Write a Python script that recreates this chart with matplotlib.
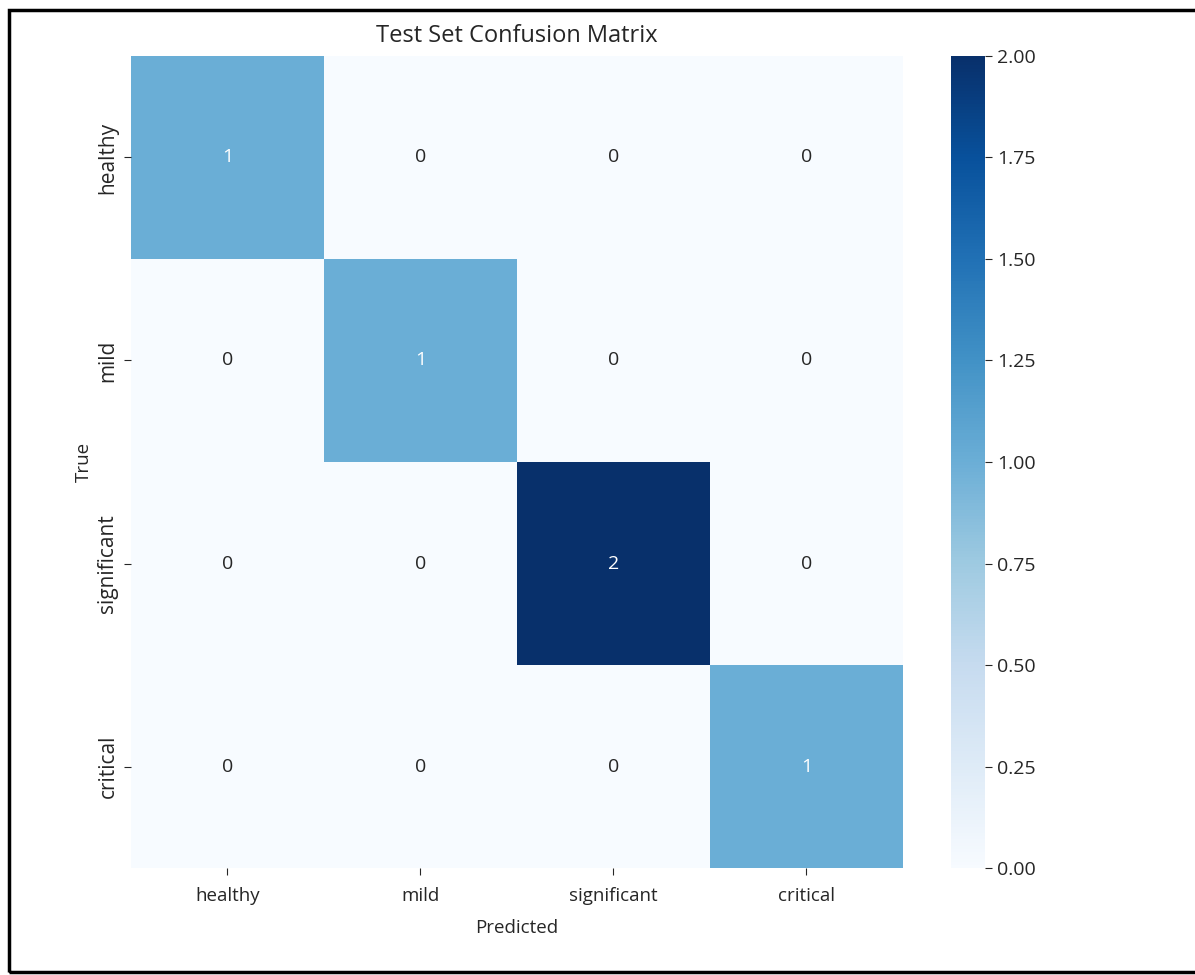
import numpy as np
import matplotlib
matplotlib.use("Agg")
import matplotlib.pyplot as plt
import seaborn as sns
from matplotlib.patches import Rectangle

classes = ["healthy", "mild", "significant", "critical"]
cm = np.array([[1, 0, 0, 0],
               [0, 1, 0, 0],
               [0, 0, 2, 0],
               [0, 0, 0, 1]])
cbar_ticks = [0.0, 0.25, 0.5, 0.75, 1.0, 1.25, 1.5, 1.75, 2.0]

plt.rcParams["font.family"] = ["Open Sans", "DejaVu Sans"]
plt.rcParams["text.color"] = "#262626"
plt.rcParams["axes.labelcolor"] = "#262626"
plt.rcParams["xtick.color"] = "#262626"
plt.rcParams["ytick.color"] = "#262626"

fig = plt.figure(figsize=(11.95, 9.75), dpi=100)
ax = fig.add_axes([0.1096, 0.1097, 0.646, 0.8329])
cax = fig.add_axes([0.7958, 0.1097, 0.0285, 0.8329])

sns.heatmap(cm, annot=True, fmt="d", cmap="Blues", vmin=0, vmax=2,
            xticklabels=classes, yticklabels=classes, ax=ax, cbar_ax=cax,
            annot_kws={"fontsize": 14})
ax.set_title("Test Set Confusion Matrix", fontsize=17, pad=10)
ax.set_xlabel("Predicted", fontsize=13.5, labelpad=10)
ax.set_ylabel("True", fontsize=13.5, labelpad=3)
ax.tick_params(axis="x", labelsize=13.5, length=5, width=0.8, pad=9)
ax.tick_params(axis="y", labelsize=15, length=5, width=0.8, pad=4)
plt.setp(ax.get_yticklabels(), rotation=90, va="center")

cax.set_yticks(cbar_ticks)
cax.set_yticklabels([f"{t:.2f}" for t in cbar_ticks])
cax.tick_params(labelsize=14, length=5, width=0.8)

# page frame around the figure
fig.patches.append(Rectangle((0.0075, 0.003), 1.1, 0.987, transform=fig.transFigure,
                             fill=False, edgecolor="black", linewidth=2.5))

fig.savefig("out.png", dpi=100)
